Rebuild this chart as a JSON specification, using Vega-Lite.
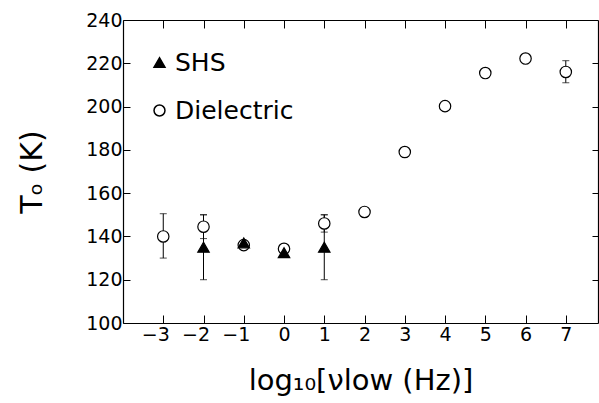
{
  "$schema": "https://vega.github.io/schema/vega-lite/v6.json",
  "width": 475,
  "height": 303,
  "autosize": {"type": "none"},
  "padding": {"left": 123, "top": 20, "right": 1, "bottom": 80},
  "background": "white",
  "config": {
    "view": {"stroke": null},
    "font": "DejaVu Sans",
    "axis": {"domainColor": "black", "tickColor": "black", "labelColor": "black", "titleColor": "black", "grid": false, "labelFont": "DejaVu Sans", "titleFont": "DejaVu Sans", "titleFontWeight": "normal"},
    "legend": {"padding": 0}
  },
  "data": {
    "values": [
      {"x": -3, "y": 140, "lo": 130, "hi": 150.5, "series": "Dielectric"},
      {"x": -2, "y": 144.5, "lo": 139, "hi": 150, "series": "Dielectric"},
      {"x": -1, "y": 136, "lo": null, "hi": null, "series": "Dielectric"},
      {"x": 0, "y": 134.3, "lo": null, "hi": null, "series": "Dielectric"},
      {"x": 1, "y": 146, "lo": 142, "hi": 150, "series": "Dielectric"},
      {"x": 2, "y": 151.3, "lo": null, "hi": null, "series": "Dielectric"},
      {"x": 3, "y": 179, "lo": null, "hi": null, "series": "Dielectric"},
      {"x": 4, "y": 200.2, "lo": null, "hi": null, "series": "Dielectric"},
      {"x": 5, "y": 215.5, "lo": null, "hi": null, "series": "Dielectric"},
      {"x": 6, "y": 222.2, "lo": null, "hi": null, "series": "Dielectric"},
      {"x": 7, "y": 216, "lo": 211, "hi": 221.2, "series": "Dielectric"},
      {"x": -2, "y": 135, "lo": 120, "hi": 150, "series": "SHS"},
      {"x": -1, "y": 137, "lo": null, "hi": null, "series": "SHS"},
      {"x": 0, "y": 132.5, "lo": null, "hi": null, "series": "SHS"},
      {"x": 1, "y": 135, "lo": 120, "hi": 150, "series": "SHS"}
    ]
  },
  "resolve": {"axis": {"x": "independent", "y": "independent"}},
  "layer": [
    {
      "transform": [{"filter": "datum.lo != null"}],
      "mark": {"type": "errorbar", "ticks": {"size": 7, "color": "black", "strokeWidth": 1}, "rule": {"color": "black", "strokeWidth": 1}},
      "encoding": {
        "x": {"field": "x", "type": "quantitative", "scale": {"domain": [-4, 7.8], "nice": false, "zero": false}, "axis": null},
        "y": {"field": "lo", "type": "quantitative", "scale": {"domain": [100, 240], "nice": false, "zero": false}, "axis": null},
        "y2": {"field": "hi"}
      }
    },
    {
      "mark": {"type": "point", "filled": true, "stroke": "black", "strokeWidth": 1.2, "opacity": 1, "size": 130},
      "encoding": {
        "x": {"field": "x", "type": "quantitative", "scale": {"domain": [-4, 7.8], "nice": false, "zero": false},
          "axis": {"orient": "bottom", "values": [-3, -2, -1, 0, 1, 2, 3, 4, 5, 6, 7], "tickSize": -8, "labelFontSize": 19, "labelPadding": 10, "title": "log₁₀[νlow (Hz)]", "titleFontSize": 29, "titlePadding": 22, "domainWidth": 1.2, "labelFlush": false,
            "labelAlign": {"condition": {"test": "datum.value < 0", "value": "right"}, "value": "center"},
            "labelOffset": {"condition": {"test": "datum.value < 0", "value": 6}, "value": 0}}},
        "y": {"field": "y", "type": "quantitative", "scale": {"domain": [100, 240], "nice": false, "zero": false},
          "axis": {"orient": "left", "values": [100, 120, 140, 160, 180, 200, 220, 240], "tickSize": -7, "labelFontSize": 19, "labelPadding": 8, "title": "Tₒ (K)", "titleFontSize": 30, "titlePadding": 38, "domainWidth": 1.2, "labelFlush": false}},
        "shape": {"field": "series", "type": "nominal", "scale": {"domain": ["SHS", "Dielectric"], "range": ["triangle-up", "circle"]},
          "legend": {"orient": "none", "legendX": 24, "legendY": 30, "title": null, "labelFontSize": 25, "labelColor": "black", "symbolSize": 120, "rowPadding": 22, "labelOffset": 3,
            "encode": {"symbols": {"update": {"stroke": {"value": "black"}, "strokeWidth": {"value": 1.2}}}}}},
        "fill": {"field": "series", "type": "nominal", "scale": {"domain": ["SHS", "Dielectric"], "range": ["black", "white"]}}
      }
    },
    {
      "mark": {"type": "point", "opacity": 0},
      "encoding": {
        "x": {"field": "x", "type": "quantitative", "scale": {"domain": [-4, 7.8], "nice": false, "zero": false},
          "axis": {"orient": "top", "values": [-3, -2, -1, 0, 1, 2, 3, 4, 5, 6, 7], "tickSize": -8, "labels": false, "title": null, "domainWidth": 1.2}},
        "y": {"field": "y", "type": "quantitative", "scale": {"domain": [100, 240], "nice": false, "zero": false},
          "axis": {"orient": "right", "values": [120, 140, 160, 180, 200, 220], "tickSize": -6, "labels": false, "title": null, "domainWidth": 1.2}}
      }
    }
  ]
}
